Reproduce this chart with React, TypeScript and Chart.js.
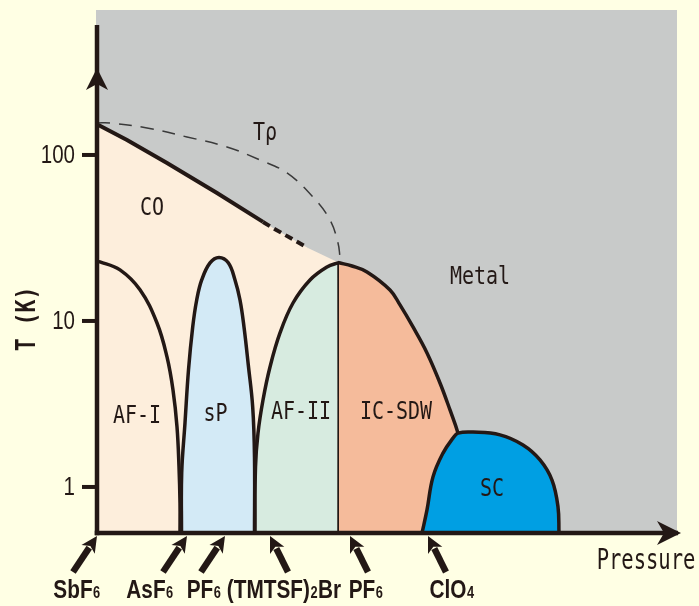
import React, { useEffect, useRef } from 'react';
import { Chart, registerables } from 'chart.js';

Chart.register(...registerables);

// ---------- axis ranges ----------
const T_BASE = 0.528; // bottom of log T axis
const T_TOP = 747;
const P_MIN = 0;
const P_MAX = 58;
const Y_TICKS = [1, 10, 100];

// ---------- phase boundaries (pressure P arbitrary units, T in K) ----------
const CO_P = [0, 3.0, 7.0, 12.0, 16.6, 17.6, 21.1, 24.2];
const CO_T = [153, 123, 89.5, 59.0, 39.5, 36.3, 27.5, 22.4];

const TRHO_P = [0, 1.3, 5.0, 9.0, 13.0, 16.3, 19.0, 21.6, 23.3, 24.1, 24.3];
const TRHO_T = [156, 155.9, 145.4, 128.4, 111.7, 93.3, 77.9, 55.8, 40.6, 29.5, 24.3];

const AF1_P = [0, 0.3, 2.3, 4.3, 6.0, 7.0, 7.6, 8.0, 8.2, 8.3, 8.3];
const AF1_T = [22.7, 22.7, 20.3, 15.4, 9.72, 6.07, 3.84, 2.3, 1.32, 0.8, T_BASE];

const SP_P = [8.45, 8.47, 8.8, 9.15, 9.57, 9.97, 10.47, 11.3, 12.2, 13.13, 13.8, 14.3, 14.7, 15.13, 15.57, 15.75, 15.75];
const SP_T = [T_BASE, 1.214, 2.43, 5.07, 9.2, 13.38, 17.66, 22.4, 24.13, 22.4, 17.66, 13.38, 9.2, 5.43, 3.03, 1.516, T_BASE];

const AF2_P = [15.8, 15.85, 16.1, 16.6, 17.3, 18.3, 19.6, 21.3, 23.0, 24.1, 24.2, 24.2];
const AF2_T = [T_BASE, 1.32, 2.11, 3.34, 5.28, 8.47, 12.83, 17.66, 21.15, 22.4, 22.4, T_BASE];

const IC_P = [24.2, 25.5, 27.0, 29.3, 30.3, 31.6, 33.0, 34.3, 35.3, 36.1, 36.6, 37.0, 37.3];
const IC_T = [22.4, 21.44, 19.74, 15.37, 12.49, 9.2, 6.42, 4.23, 2.91, 2.11, 1.559, 1.1, T_BASE];

const SC_P = [32.5, 33.0, 33.6, 34.6, 35.6, 36.1, 37.6, 40.3, 42.6, 44.3, 45.5, 46.1, 46.2];
const SC_T = [T_BASE, 0.727, 1.15, 1.6, 1.97, 2.11, 2.14, 2.06, 1.79, 1.455, 1.1, 0.758, T_BASE];

// ---------- annotations ----------
const REGION_LABELS = ['CO', 'Tρ', 'Metal', 'AF-I', 'sP', 'AF-II', 'IC-SDW', 'SC'];
const REGION_LABEL_P = [5.5, 16.8, 38.3, 4.0, 11.85, 20.4, 29.9, 39.5];
const REGION_LABEL_T = [47.9, 133.8, 18.2, 2.64, 2.72, 2.79, 2.79, 0.959];

const COMPOUNDS = ['SbF_6', 'AsF_6', 'PF_6', '(TMTSF)_2Br', 'PF_6', 'ClO_4'];
const COMPOUND_P = [0, 9.0, 12.8, 17.3, 25.3, 33.1];
const COMPOUND_LEAN = [1, 1, 1, -1, -1, -1];
const COMPOUND_LABEL_P = [-2.0, 5.3, 10.7, 18.7, 26.9, 35.5];

const X_TITLE = 'Pressure';
const X_TITLE_P = 54.9;
const Y_TITLE = 'T (K)';
const Y_TITLE_T = 10;

// ---------- colours ----------
const BG = '#FFFFE4';
const GRAY = '#C8CAC9';
const PEACH = '#FDEEDC';
const SP_BLUE = '#D3EAF6';
const AF2_GREEN = '#D7EBE0';
const IC_SALMON = '#F5BB9B';
const SC_BLUE = '#009FE3';
const INK = '#231815';

const GOTHIC = "'DejaVu Sans Mono', monospace";
const COND = "'Liberation Sans', Arial, sans-serif";

const pts = (P: number[], T: number[]) => P.map((p, i) => ({ x: p, y: T[i] }));

function scaledText(ctx: CanvasRenderingContext2D, text: string, x: number, y: number, font: string, sx: number, sy: number, align: CanvasTextAlign = 'center') {
  ctx.save();
  ctx.translate(x, y);
  ctx.scale(sx, sy);
  ctx.font = font;
  ctx.textAlign = align;
  ctx.textBaseline = 'middle';
  ctx.fillText(text, 0, 0);
  ctx.restore();
}

function subText(ctx: CanvasRenderingContext2D, label: string, cx: number, baseY: number) {
  const parts: { t: string; sub: boolean }[] = [];
  const re = /_(\d)/g;
  let last = 0;
  let m: RegExpExecArray | null;
  while ((m = re.exec(label))) {
    if (m.index > last) parts.push({ t: label.slice(last, m.index), sub: false });
    parts.push({ t: m[1], sub: true });
    last = m.index + m[0].length;
  }
  if (last < label.length) parts.push({ t: label.slice(last), sub: false });
  const mainFont = `bold 26px ${COND}`;
  const subFont = `bold 16px ${COND}`;
  const sx = 0.8;
  const widths = parts.map((p) => {
    ctx.font = p.sub ? subFont : mainFont;
    return ctx.measureText(p.t).width * sx + (p.sub ? 1 : 0);
  });
  const total = widths.reduce((a, b) => a + b, 0);
  let x = cx - total / 2;
  parts.forEach((p, i) => {
    ctx.save();
    ctx.translate(x + (p.sub ? 0.5 : 0), baseY);
    ctx.scale(sx, 1);
    ctx.font = p.sub ? subFont : mainFont;
    ctx.textAlign = 'left';
    ctx.textBaseline = 'alphabetic';
    ctx.fillText(p.t, 0, 0);
    ctx.restore();
    x += widths[i];
  });
}

function arrow(ctx: CanvasRenderingContext2D, fx: number, fy: number, tx: number, ty: number, shaft: number, headLen: number, headHalf: number) {
  const dx = tx - fx;
  const dy = ty - fy;
  const len = Math.hypot(dx, dy);
  const ux = dx / len;
  const uy = dy / len;
  const bx = tx - ux * headLen;
  const by = ty - uy * headLen;
  ctx.lineWidth = shaft;
  ctx.lineCap = 'butt';
  ctx.beginPath();
  ctx.moveTo(fx, fy);
  ctx.lineTo(bx + ux * 2, by + uy * 2);
  ctx.stroke();
  ctx.beginPath();
  ctx.moveTo(tx, ty);
  ctx.lineTo(bx - uy * headHalf, by + ux * headHalf);
  ctx.lineTo(bx + ux * 4, by + uy * 4);
  ctx.lineTo(bx + uy * headHalf, by - ux * headHalf);
  ctx.closePath();
  ctx.fill();
}

const decorPlugin = {
  id: 'phaseDecor',
  beforeDraw(chart: any) {
    const { ctx, chartArea: a } = chart;
    ctx.save();
    ctx.fillStyle = BG;
    ctx.fillRect(0, 0, chart.width, chart.height);
    ctx.fillStyle = GRAY;
    ctx.fillRect(a.left - 1, a.top, a.right - a.left + 1, a.bottom - a.top);
    ctx.restore();
  },
  afterDatasetsDraw(chart: any) {
    const { ctx, chartArea: a } = chart;
    const xs = chart.scales.x;
    const ys = chart.scales.y;
    ctx.save();
    ctx.fillStyle = INK;
    ctx.strokeStyle = INK;

    // region labels
    REGION_LABELS.forEach((t, i) => {
      scaledText(ctx, t, xs.getPixelForValue(REGION_LABEL_P[i]), ys.getPixelForValue(REGION_LABEL_T[i]), `20px ${GOTHIC}`, 1, 1.25);
    });

    // y ticks (from the scale's ticks)
    ys.ticks.forEach((tk: any) => {
      const y = ys.getPixelForValue(tk.value);
      ctx.lineWidth = 4;
      ctx.beginPath();
      ctx.moveTo(a.left - 15, y);
      ctx.lineTo(a.left, y);
      ctx.stroke();
      scaledText(ctx, String(tk.value), a.left - 22, y + 1, `25px ${COND}`, 0.82, 1, 'right');
    });

    // axes
    ctx.lineWidth = 4.5;
    ctx.lineCap = 'butt';
    ctx.beginPath();
    ctx.moveTo(a.left, a.top + 15);
    ctx.lineTo(a.left, a.bottom + 2.25);
    ctx.stroke();
    ctx.beginPath();
    ctx.moveTo(a.left - 2.25, a.bottom);
    ctx.lineTo(a.right + 1, a.bottom);
    ctx.stroke();
    // y arrow head
    const yt = a.top + 58;
    ctx.beginPath();
    ctx.moveTo(a.left, yt);
    ctx.lineTo(a.left - 11, yt + 22);
    ctx.lineTo(a.left, yt + 16);
    ctx.lineTo(a.left + 11, yt + 22);
    ctx.closePath();
    ctx.fill();
    // x arrow head
    const xt = a.right + 4;
    ctx.beginPath();
    ctx.moveTo(xt, a.bottom);
    ctx.lineTo(xt - 24, a.bottom - 12);
    ctx.lineTo(xt - 17, a.bottom);
    ctx.lineTo(xt - 24, a.bottom + 12);
    ctx.closePath();
    ctx.fill();

    // compound arrows and labels
    COMPOUNDS.forEach((c, i) => {
      const tx = xs.getPixelForValue(COMPOUND_P[i]);
      const ty = a.bottom + 3;
      const lean = COMPOUND_LEAN[i];
      const fx = lean > 0 ? tx - 24 : tx + 18;
      const fy = ty + 36;
      arrow(ctx, fx, fy, tx, ty, 6.5, 16, 8);
      subText(ctx, c, xs.getPixelForValue(COMPOUND_LABEL_P[i]), a.bottom + 65);
    });

    // axis titles
    scaledText(ctx, X_TITLE, xs.getPixelForValue(X_TITLE_P), a.bottom + 29, `20.5px ${GOTHIC}`, 1, 1.38);
    ctx.save();
    ctx.translate(a.left - 69, ys.getPixelForValue(Y_TITLE_T) - 2);
    ctx.rotate(-Math.PI / 2);
    ctx.scale(1, 1.27);
    ctx.font = `bold 21.5px ${GOTHIC}`;
    ctx.textAlign = 'center';
    ctx.textBaseline = 'middle';
    ctx.fillText(Y_TITLE, 0, 0);
    ctx.restore();

    ctx.restore();
  },
};

export default function App() {
  const ref = useRef<HTMLCanvasElement | null>(null);

  useEffect(() => {
    if (!ref.current) return;
    const border = { borderColor: INK, borderWidth: 3.5, pointRadius: 0, tension: 0.4 };
    const chart = new Chart(ref.current, {
      type: 'line',
      data: {
        datasets: [
          {
            label: 'CO',
            data: pts(CO_P.concat([CO_P[CO_P.length - 1]]), CO_T.concat([T_BASE])),
            backgroundColor: PEACH,
            fill: 'start',
            borderWidth: 0,
            pointRadius: 0,
            tension: 0,
            order: 10,
          },
          { label: 'sP', data: pts(SP_P, SP_T), backgroundColor: SP_BLUE, fill: 'start', ...border, order: 9 },
          { label: 'AF-II', data: pts(AF2_P, AF2_T), backgroundColor: AF2_GREEN, fill: 'start', ...border, order: 8 },
          { label: 'IC-SDW', data: pts(IC_P, IC_T), backgroundColor: IC_SALMON, fill: 'start', ...border, order: 7 },
          { label: 'SC', data: pts(SC_P, SC_T), backgroundColor: SC_BLUE, fill: 'start', ...border, order: 6 },
          { label: 'AF-I', data: pts(AF1_P, AF1_T), fill: false, ...border, order: 5 },
          {
            label: 'CO line',
            data: pts(CO_P.slice(0, 5), CO_T.slice(0, 5)),
            fill: false,
            borderColor: INK,
            borderWidth: 4,
            pointRadius: 0,
            tension: 0,
            order: 4,
          },
          {
            label: 'CO dashed',
            data: pts(CO_P.slice(4, 7), CO_T.slice(4, 7)),
            fill: false,
            borderColor: INK,
            borderWidth: 4,
            borderDash: [8, 5],
            pointRadius: 0,
            tension: 0,
            order: 3,
          },
          {
            label: 'Tρ',
            data: pts(TRHO_P, TRHO_T),
            fill: false,
            borderColor: '#3a3a3a',
            borderWidth: 1.5,
            borderDash: [13, 9],
            pointRadius: 0,
            tension: 0.4,
            order: 2,
          },
        ],
      },
      options: {
        animation: false,
        responsive: false,
        devicePixelRatio: 1,
        events: [],
        layout: { padding: { left: 0, top: 10, right: 22, bottom: 73 } },
        plugins: { legend: { display: false }, tooltip: { enabled: false } },
        scales: {
          x: { type: 'linear', min: P_MIN, max: P_MAX, display: false },
          y: {
            type: 'logarithmic',
            min: T_BASE,
            max: T_TOP,
            afterFit: (s: any) => {
              s.width = 97;
              s.paddingTop = 0;
              s.paddingBottom = 0;
            },
            afterBuildTicks: (s: any) => {
              s.ticks = Y_TICKS.map((v) => ({ value: v }));
            },
            ticks: { display: false },
            grid: { display: false },
            border: { display: false },
          },
        },
      },
      plugins: [decorPlugin],
    } as any);
    return () => chart.destroy();
  }, []);

  return (
    <div style={{ position: 'absolute', left: 0, top: 0, width: 699, height: 606, background: BG }}>
      <canvas ref={ref} width={699} height={606} style={{ display: 'block' }} />
    </div>
  );
}
